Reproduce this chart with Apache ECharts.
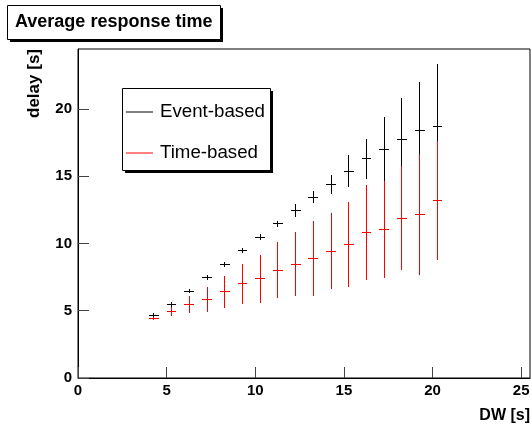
<!DOCTYPE html>
<html>
<head>
<meta charset="utf-8">
<script src="https://cdn.jsdelivr.net/npm/echarts@6/dist/echarts.min.js"></script>
<style>
  html, body { margin: 0; padding: 0; background: #fff; }
  #chart { width: 531px; height: 428px; }
</style>
</head>
<body>
<div id="chart"></div>
<script>
// bin centres (DW [s])
var dw = [4.25, 5.25, 6.25, 7.25, 8.25, 9.25, 10.25, 11.25, 12.25, 13.25, 14.25, 15.25, 16.25, 17.25, 18.25, 19.25, 20.25];
var binHalfWidth = 0.25;

// Event-based delay and error
var eventDelay = [4.72, 5.51, 6.50, 7.51, 8.51, 9.50, 10.51, 11.51, 12.50, 13.49, 14.43, 15.42, 16.34, 17.04, 17.76, 18.45, 18.77];
var eventErr = [0.08, 0.16, 0.14, 0.15, 0.15, 0.16, 0.16, 0.19, 0.43, 0.43, 0.65, 1.14, 1.45, 2.36, 3.05, 3.55, 4.57];

// Time-based delay and error
var timeDelay = [4.49, 4.97, 5.48, 5.85, 6.45, 7.04, 7.41, 8.06, 8.51, 8.90, 9.47, 9.97, 10.84, 11.09, 11.93, 12.18, 13.22];
var timeErr = [0.08, 0.31, 0.60, 0.90, 1.17, 1.46, 1.75, 2.03, 2.36, 2.74, 2.80, 3.12, 3.50, 3.57, 3.85, 4.46, 4.37];

var xTicks = [0, 5, 10, 15, 20, 25];
var yTicks = [0, 5, 10, 15, 20];

function toRows(ys, errs) {
  return dw.map(function (x, i) { return [x, ys[i], errs[i]]; });
}

// draw one error cross (x error = bin half width, y error from data)
function errorCross(params, api) {
  var x = api.value(0), y = api.value(1), e = api.value(2);
  var c = api.coord([x, y]);
  var top = api.coord([x, y + e]);
  var bot = api.coord([x, y - e]);
  var l = api.coord([x - binHalfWidth, y]);
  var r = api.coord([x + binHalfWidth, y]);
  var col = api.visual("color");
  var cx = Math.round(c[0]) + 0.5, cy = Math.round(c[1]) + 0.5;
  return {
    type: "group",
    children: [
      {
        type: "line",
        shape: { x1: cx, y1: Math.round(top[1]), x2: cx, y2: Math.round(bot[1]) + 1 },
        style: { stroke: col, lineWidth: 1 }
      },
      {
        type: "line",
        shape: { x1: Math.round(l[0]), y1: cy, x2: Math.round(r[0]) + 1, y2: cy },
        style: { stroke: col, lineWidth: 1 }
      }
    ]
  };
}

// box with a hard drop shadow (ROOT pave style)
function paveBox(x, y, w, h, off) {
  return [
    { type: "rect", z: 1, silent: true, shape: { x: x + off, y: y + off, width: w, height: h }, style: { fill: "#000" } },
    { type: "rect", z: 2, silent: true, shape: { x: x + 0.5, y: y + 0.5, width: w, height: h }, style: { fill: "#fff", stroke: "#000", lineWidth: 1 } }
  ];
}

var myChart = echarts.init(document.getElementById("chart"));

myChart.setOption({
  animation: false,
  backgroundColor: "#fff",
  textStyle: { fontFamily: "Liberation Sans, Arial, sans-serif" },
  graphic: paveBox(7, 5, 213, 34, 3).concat(paveBox(122, 88, 148, 82, 3)),
  title: {
    text: "Average response time",
    left: 15,
    top: 7,
    padding: [5, 0, 5, 0],
    z: 10,
    textStyle: { fontSize: 18, fontWeight: "bold", color: "#000", lineHeight: 20 }
  },
  legend: {
    orient: "vertical",
    left: 122,
    top: 88,
    padding: [14, 8, 11, 4],
    itemGap: 21,
    itemWidth: 27,
    itemHeight: 1,
    icon: "rect",
    z: 10,
    textStyle: { fontSize: 18.7, color: "#000", lineHeight: 20, padding: [0, 0, 0, 2] },
    data: ["Event-based", "Time-based"]
  },
  grid: {
    left: 78,
    top: 49,
    right: 1,
    bottom: 50,
    show: true,
    borderColor: "#000",
    borderWidth: 1,
    containLabel: false,
    outerBoundsMode: "none"
  },
  xAxis: {
    type: "value",
    min: 0,
    max: 25.5,
    interval: 5,
    name: "DW [s]",
    nameLocation: "end",
    nameGap: 0,
    nameTextStyle: {
      align: "right",
      verticalAlign: "top",
      padding: [30, 0, 0, 0],
      fontSize: 16,
      fontWeight: "bold",
      color: "#000"
    },
    axisLine: { onZero: false, lineStyle: { color: "#000", width: 1 } },
    axisTick: { inside: true, length: 11, customValues: xTicks, lineStyle: { color: "#444" } },
    axisLabel: { customValues: xTicks, margin: 5, fontSize: 15, fontWeight: "bold", color: "#000" },
    splitLine: { show: false }
  },
  yAxis: {
    type: "value",
    min: 0,
    max: 24.46,
    interval: 5,
    name: "delay [s]",
    nameLocation: "end",
    nameRotate: 90,
    nameGap: 0,
    nameTextStyle: {
      align: "right",
      verticalAlign: "bottom",
      padding: [0, 0, 35, 0],
      fontSize: 17,
      fontWeight: "bold",
      color: "#000"
    },
    axisLine: { onZero: false, lineStyle: { color: "#000", width: 1 } },
    axisTick: { inside: true, length: 11, customValues: yTicks, lineStyle: { color: "#444" } },
    axisLabel: { customValues: yTicks, margin: 6, fontSize: 15, fontWeight: "bold", color: "#000" },
    splitLine: { show: false }
  },
  series: [
    {
      name: "Event-based",
      type: "custom",
      renderItem: errorCross,
      itemStyle: { color: "#000" },
      encode: { x: 0, y: 1 },
      data: toRows(eventDelay, eventErr)
    },
    {
      name: "Time-based",
      type: "custom",
      renderItem: errorCross,
      itemStyle: { color: "#ff0000" },
      encode: { x: 0, y: 1 },
      data: toRows(timeDelay, timeErr)
    }
  ]
});
</script>
</body>
</html>
